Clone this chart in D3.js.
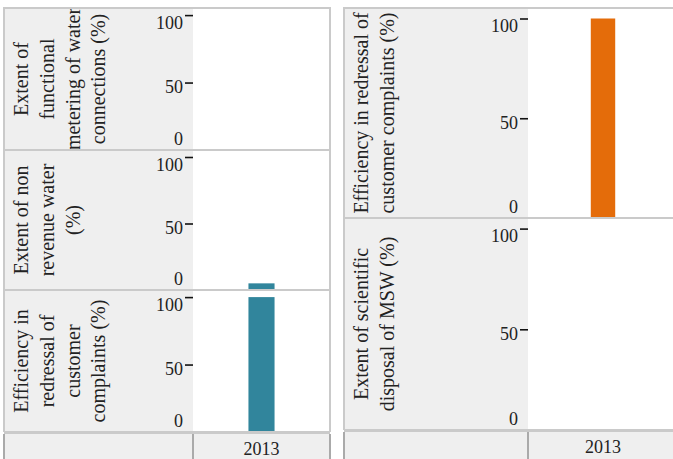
<!DOCTYPE html>
<html><head><meta charset="utf-8">
<script src="https://cdn.jsdelivr.net/npm/d3@7"></script>
<style>
html,body{margin:0;padding:0;background:#fff;}
svg{display:block;font-family:"Palatino Linotype","Book Antiqua",Palatino,"Liberation Serif",serif;}
</style></head>
<body><svg id="chart" width="673" height="459"></svg>
<script>
const years = ["2013"];
const yTicks = [0, 50, 100];
const leftLabels = [
  ["Extent of", "functional", "metering of water", "connections (%)"],
  ["Extent of non", "revenue water", "(%)"],
  ["Efficiency in", "redressal of", "customer", "complaints (%)"]
];
const leftValues = [null, 5, 100];
const rightLabels = [
  ["Efficiency in redressal of", "customer complaints (%)"],
  ["Extent of scientific", "disposal of MSW (%)"]
];
const rightValues = [100, null];
const leftColor = "#31859c";
const rightColor = "#e46c0a";

const svg = d3.select("#chart");
const defs = svg.append("defs");
let clipId = 0;

function drawColumn(cfg) {
  const {x0, axisX, x1, rows, labels, values, color, pad} = cfg;
  const g = svg.append("g");
  const xs = d3.scaleBand().domain(years).range([axisX, x1]).padding(pad);
  rows.slice(0, -1).forEach((top, i) => {
    const bottom = rows[i + 1];
    const h = bottom - top;
    const ys = d3.scaleLinear().domain([0, 100]).range([bottom, top + 0.05 * h]);
    g.append("rect").attr("x", x0).attr("y", top).attr("width", axisX - x0).attr("height", h).attr("fill", "#efefef");
    g.append("rect").attr("x", axisX).attr("y", top).attr("width", x1 - axisX).attr("height", h).attr("fill", "#fff");
    const id = "clip" + (clipId++);
    defs.append("clipPath").attr("id", id).append("rect")
      .attr("x", x0).attr("y", top).attr("width", axisX - x0).attr("height", h);
    const lg = g.append("g").attr("clip-path", `url(#${id})`);
    const cy = (top + bottom) / 2;
    labels[i].forEach((line, j) => {
      const bx = x0 + 24 + j * 25.8;
      lg.append("text").attr("transform", `translate(${bx},${cy}) rotate(-90)`)
        .attr("text-anchor", "middle").attr("font-size", 20).attr("fill", "#222").text(line);
    });
    const axis = d3.axisLeft(ys).tickValues(yTicks).tickSize(8).tickPadding(0).tickFormat(d3.format("d"));
    const ag = g.append("g").attr("transform", `translate(${axisX},0)`).call(axis);
    ag.attr("font-family", null).attr("font-size", 18);
    ag.select(".domain").remove();
    ag.selectAll(".tick line").attr("stroke", d => d === 0 ? "#999" : "#111").attr("stroke-width", 1.6);
    ag.selectAll(".tick text")
      .attr("fill", "#222")
      .attr("x", -10).attr("dy", null)
      .attr("y", d => d === 0 ? -6 : (d === 50 ? 10 : 13));
    const v = values[i];
    if (v != null) {
      g.append("rect").attr("x", xs(years[0])).attr("width", xs.bandwidth())
        .attr("y", ys(v)).attr("height", ys(0) - ys(v)).attr("fill", color);
    }
  });
  rows.forEach(y => {
    g.append("line").attr("x1", x0).attr("x2", x1).attr("y1", y).attr("y2", y)
      .attr("stroke", "#cacaca").attr("stroke-width", 2);
  });
  const topY = rows[0], botY = rows[rows.length - 1];
  [x0, x1].forEach(x => g.append("line").attr("x1", x).attr("x2", x).attr("y1", topY - 1).attr("y2", botY)
    .attr("stroke", "#cacaca").attr("stroke-width", 2));
  g.append("rect").attr("x", x0).attr("y", botY + 1).attr("width", x1 - x0).attr("height", 40).attr("fill", "#efefef");
  g.append("line").attr("x1", x0).attr("x2", x1).attr("y1", botY + 1).attr("y2", botY + 1)
    .attr("stroke", "#cacaca").attr("stroke-width", 2);
  [x0, axisX, x1].forEach(x => g.append("line").attr("x1", x).attr("x2", x).attr("y1", botY + 2).attr("y2", 470)
    .attr("stroke", "#aaa").attr("stroke-width", 2));
  const xg = g.append("g").attr("transform", `translate(0,${botY})`)
    .call(d3.axisBottom(xs).tickSize(0).tickPadding(0));
  xg.attr("font-family", null).attr("font-size", 18);
  xg.select(".domain").remove();
  xg.selectAll(".tick text").attr("fill", "#222").attr("dy", null).attr("y", 23);
}

drawColumn({x0: 4, axisX: 193, x1: 330, rows: [8, 150, 290, 432],
  labels: leftLabels, values: leftValues, color: leftColor, pad: 0.68});
drawColumn({x0: 344, axisX: 528, x1: 678, rows: [8, 218, 430],
  labels: rightLabels, values: rightValues, color: rightColor, pad: 0.72});
</script></body></html>
